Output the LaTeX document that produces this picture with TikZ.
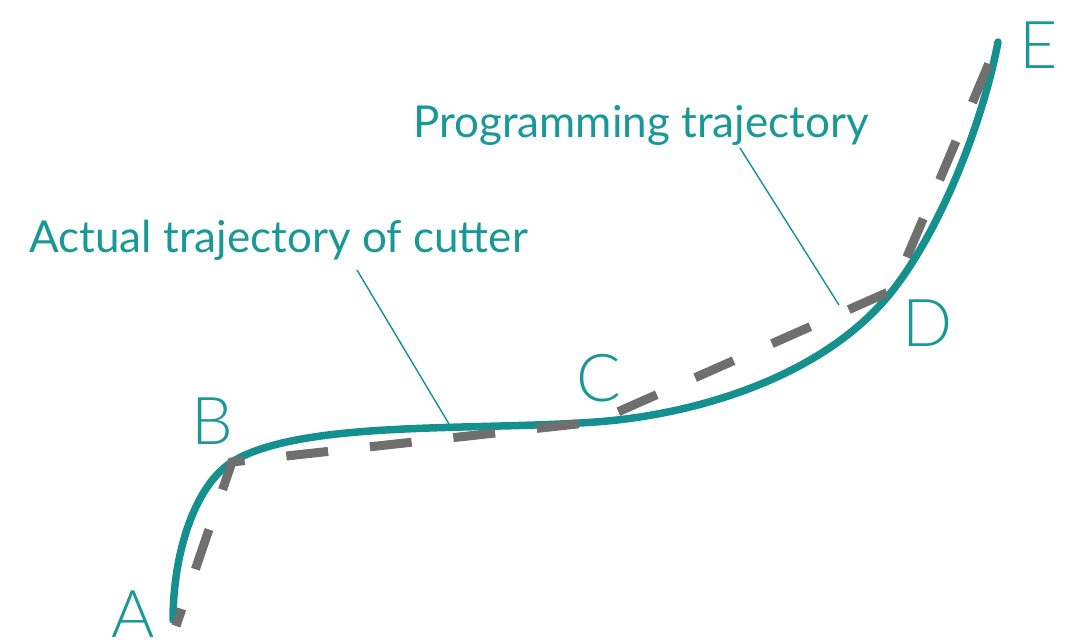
\documentclass[tikz,border=0pt]{standalone}
\usepackage{fontspec}
\setmainfont{Lato}
\newfontfamily\thinfont{Lato Light}
\usepackage{tikz}
\usepackage{xcolor}
\usetikzlibrary{calc}

\definecolor{cutterteal}{HTML}{14908F}
\definecolor{labelteal}{HTML}{1A9898}
\definecolor{proggray}{HTML}{6F6F6F}

\begin{document}
\begin{tikzpicture}[x=1pt,y=-1pt,
		actualpath/.style={draw=cutterteal,line width=7.5pt,line cap=round},
		progpath/.style={draw=proggray,line width=9pt,dash pattern=on 42pt off 42pt,dash phase=24pt},
		leader/.style={draw=cutterteal,line width=1.4pt},
		pointlabel/.style={text=labelteal,inner sep=0pt,font=\thinfont\fontsize{66}{70}\selectfont},
		pathlabel/.style={text=labelteal,inner sep=0pt,anchor=base west,font=\fontsize{44}{50}\selectfont}]
			
			\useasboundingbox (0,0) rectangle (1079,641);
			
			% points where the two paths meet
			\coordinate (A) at (173,620);
			\coordinate (B) at (232,462);
			\coordinate (C) at (595,422);
			\coordinate (D) at (893,290);
			\coordinate (E) at (998,42);
			\coordinate (A0) at (176,626);
			
			% actual trajectory of the cutter (smooth)
			\draw[actualpath] (A) .. controls (173,555) and (194,486) .. (B)
				.. controls (300,420) and (470,431) .. (C)
				.. controls (695,415) and (825,377) .. (D)
				.. controls (942,227) and (983,121) .. (E);
			
			% programming trajectory (straight segments)
			\draw[progpath] (A0) -- (B) -- (C) -- (D) -- (E);
			
			% point labels
			\node[pointlabel] (lA) at (133,614) {A};
			\node[pointlabel] (lB) at (212,421) {B};
			\node[pointlabel] (lC) at (599,378) {C};
			\node[pointlabel] (lD) at (928,323) {D};
			\node[pointlabel] (lE) at (1039,45) {E};
			
			% path labels with leader lines
			\node[pathlabel] (actual) at (29,252) {Actual trajectory of cutter};
			\node[pathlabel] (prog) at (413,137) {Programming trajectory};
			\coordinate (actualtip) at (357,270);
			\coordinate (actualend) at (449,424);
			\coordinate (progtip) at (740,148);
			\coordinate (progend) at (839,305);
			\draw[leader] (actualtip) -- (actualend);
			\draw[leader] (progtip) -- (progend);
			
		\end{tikzpicture}
\end{document}
